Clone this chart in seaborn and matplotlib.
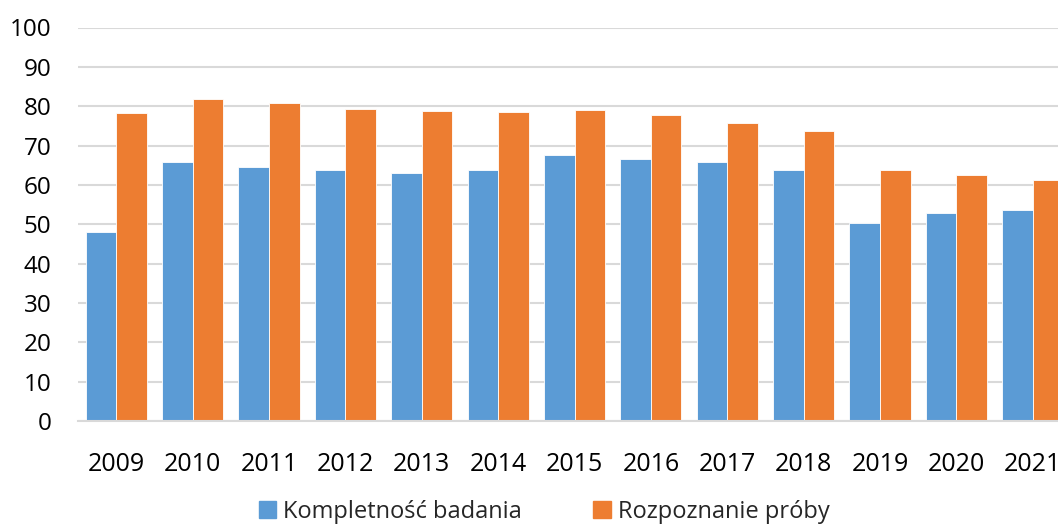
import pandas as pd
import matplotlib
matplotlib.use("Agg")
import matplotlib.pyplot as plt
import seaborn as sns

# values
years = ["2009", "2010", "2011", "2012", "2013", "2014", "2015",
         "2016", "2017", "2018", "2019", "2020", "2021"]
kompletnosc = [48.0, 65.9, 64.5, 63.7, 63.1, 63.7, 67.6,
               66.5, 65.7, 63.9, 50.4, 52.9, 53.6]
rozpoznanie = [78.2, 81.9, 80.8, 79.3, 78.8, 78.6, 79.1,
               77.8, 75.8, 73.7, 63.7, 62.4, 61.3]
series_names = ["Kompletność badania", "Rozpoznanie próby"]
colors = ["#5B9BD5", "#ED7D31"]

df = pd.DataFrame({
    "rok": years * 2,
    "wartosc": kompletnosc + rozpoznanie,
    "seria": [series_names[0]] * len(years) + [series_names[1]] * len(years),
})

sns.set_theme(style="white")
plt.rcParams["font.family"] = ["Open Sans", "DejaVu Sans"]

fig = plt.figure(figsize=(10.58, 5.26), dpi=100)
# axes runs a bit past the right edge, like the cropped original
ax = fig.add_axes([78 / 1058, 105 / 526, 993 / 1058, 393.5 / 526])

sns.barplot(data=df, x="rok", y="wartosc", hue="seria", palette=colors,
            width=0.8, saturation=1, edgecolor="white", linewidth=0.6,
            ax=ax, legend=False)

ax.set_xlim(-0.5, 12.5)
ax.set_ylim(0, 100)
ax.set_yticks(range(0, 101, 10))
ax.yaxis.grid(True, color="#D9D9D9", linewidth=1.5)
ax.set_axisbelow(True)
for s in ["top", "right", "left"]:
    ax.spines[s].set_visible(False)
ax.spines["bottom"].set_color("#D9D9D9")
ax.spines["bottom"].set_linewidth(1.5)
ax.tick_params(axis="y", length=0, pad=19, labelsize=17.5, labelcolor="black")
ax.tick_params(axis="x", length=0, pad=22, labelsize=18, labelcolor="black")
ax.set_xlabel("")
ax.set_ylabel("")

handles = [plt.Rectangle((0, 0), 1, 1, color=c) for c in colors]
fig.legend(handles, series_names, loc="center", ncol=2,
           bbox_to_anchor=(544 / 1058, 1 - 512 / 526), frameon=False,
           fontsize=17, handlelength=0.75, handleheight=0.75,
           handletextpad=0.3, columnspacing=3.0)

fig.savefig("out.png", dpi=100)
